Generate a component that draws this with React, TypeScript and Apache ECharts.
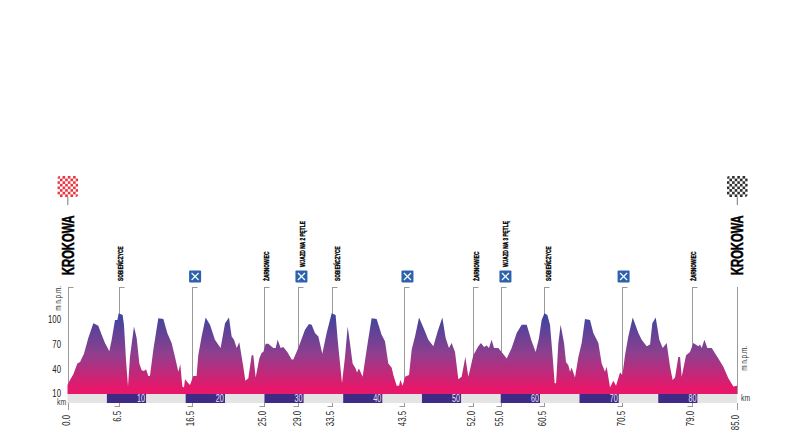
import React, { useEffect, useRef } from "react";
import * as echarts from "echarts";

const kms = [0,0.32,0.74,1.25,1.59,2.09,2.64,3.28,3.91,4.34,4.76,5.31,5.61,6.03,6.33,6.5,7,7.17,7.43,7.68,7.93,8.44,8.78,9.12,9.42,9.71,9.97,10.26,10.47,10.9,11.53,12.17,12.67,13.22,13.65,14.07,14.32,14.58,14.79,14.92,15.34,15.55,15.97,16.39,16.6,17.03,17.54,18.09,18.72,19.44,20,20.5,20.84,21.14,21.48,21.81,22.32,22.58,22.96,23.38,23.59,23.89,24.35,24.65,24.86,25.16,25.5,26.13,26.43,26.68,27.06,27.4,27.91,28.46,28.67,29.3,30.15,30.66,31,31.42,31.85,32.35,32.9,33.54,34.04,34.3,34.6,34.85,35.23,35.57,35.86,36.2,36.58,36.75,37,37.47,37.98,38.61,39.25,39.88,40.31,40.73,41.16,41.37,41.79,42.09,42.26,42.55,42.85,43.36,43.7,44.12,44.63,45.3,45.81,46.45,46.99,47.59,48.01,48.43,48.77,49.2,49.62,50.04,50.51,50.89,51.19,51.52,52.16,52.5,52.88,53.22,53.51,53.85,54.15,54.7,55.12,55.76,56.39,57.03,57.66,58.3,58.93,59.44,59.86,60.2,60.55,60.92,61.26,61.6,61.85,62.03,62.32,62.61,63.04,63.29,63.59,63.8,64.01,64.43,64.86,65.28,65.7,66.34,66.76,67.4,67.82,68.24,68.45,68.88,69.3,69.64,70.15,70.45,70.78,71.2,71.76,72.48,72.9,73.53,73.96,74.25,74.68,75.14,75.57,76.07,76.5,76.83,77.13,77.55,77.77,77.98,78.53,79.03,79.46,80.09,80.3,80.52,80.86,81.24,81.79,82.63,83.27,83.9,84.54,85];
const elevations = [21,27,34,47,49,59,78,96,93,82,72,62,76,100,100,108,106,94,51,19,55,92,78,47,39,38,40,32,32,64,102,101,84,72,55,37,46,19,18,28,23,21,32,32,57,80,103,94,76,66,96,103,80,76,66,73,43,26,29,57,57,30,53,60,61,71,71,66,66,76,66,67,61,52,52,66,88,95,94,84,80,59,84,108,106,76,47,23,55,92,72,47,41,36,41,31,64,102,101,82,74,47,42,33,20,20,27,20,31,33,64,80,103,88,76,68,86,103,78,66,72,61,28,31,55,31,43,57,68,72,67,69,66,76,66,66,61,53,66,84,94,94,74,61,78,100,108,106,94,55,23,23,72,94,72,49,45,37,42,30,55,72,101,100,84,72,47,37,43,18,26,20,36,33,57,80,103,84,76,68,70,96,103,76,66,72,43,27,30,55,55,31,57,61,72,68,70,66,76,66,66,53,43,29,19,20];

const guideKm = [0,6.55,15.77,24.95,29.3,33.6,42.72,51.5,55,60.46,70.44,79.25,85];
const guideLabels = ["0.0","6.5","16.5","25.0","29.0","33.5","43.5","52.0","55.0","60.5","70.5","79.0","85.0"];
const placeNames = ["SOBIEŃCZYCE","ŻARNOWIEC","WJAZD NA 2 PĘTLE","SOBIEŃCZYCE","ŻARNOWIEC","WJAZD NA 3 PĘTLĘ","SOBIEŃCZYCE","ŻARNOWIEC"];
const placeKm = [6.7,25.2,29.73,34.2,51.87,55.5,61,79.4];
const placeLift = [0,0,14,0,0,14,0,0];
const iconKm = [16.2,29.7,43.16,55.6,70.6];
const townName = "KROKOWA";
const townKm = [0,85];
const flagColors = ["#e8202f","#1a1a1a"];
const kmMarks = [5,10,15,20,25,30,35,40,45,50,55,60,65,70,75,80,85];
const elevationTicks = [10,40,70,100];

const SANS = '"Liberation Sans", Arial, sans-serif';
const GUIDE = "#9a9a9a";

function seg(x1: number, y1: number, x2: number, y2: number, color = GUIDE, width = 1) {
  return { type: "line", shape: { x1, y1, x2, y2 }, style: { stroke: color, lineWidth: width }, silent: true };
}

export default function App() {
  const ref = useRef<HTMLDivElement>(null);
  useEffect(() => {
    const chart = echarts.init(ref.current!, undefined, { renderer: "svg" });
    const guideSeries = {
      type: "custom", z: 1, silent: true, clip: false,
      data: guideKm.map((k) => [k]),
      encode: { x: 0 },
      renderItem: (_p: any, api: any) => {
        const k = api.value(0);
        const top = api.coord([k, 140]);
        const base = api.coord([k, 10]);
        const x = Math.round(top[0]) + 0.5;
        const isEnd = k === 0 || k === 85;
        const children: any[] = [seg(x, top[1], x, base[1])];
        if (k !== 85) children.push(seg(x, top[1] + 0.5, x + 5, top[1] + 0.5));
        children.push(seg(x, base[1] + 9, x, base[1] + (isEnd ? 16 : 13)));
        if (!isEnd) children.push(seg(x - 5, base[1] + 12.5, x, base[1] + 12.5));
        return { type: "group", children };
      },
    };
    const kmLabelSeries = {
      type: "custom", z: 4, silent: true, clip: false,
      data: guideKm.map((k, i) => [k, i]),
      encode: { x: 0 },
      renderItem: (_p: any, api: any) => {
        const k = api.value(0);
        const base = api.coord([k, 10]);
        const isEnd = k === 0 || k === 85;
        return {
          type: "text", x: base[0] - 1, y: base[1] + (isEnd ? 21 : 17), rotation: Math.PI / 2, scaleX: 0.78,
          style: { text: guideLabels[api.value(1)], fill: "#222", font: `10px ${SANS}`, align: "right", verticalAlign: "middle" },
        };
      },
    };
    const elevationLabelSeries = {
      type: "custom", z: 4, silent: true, clip: false,
      data: elevationTicks.map((v) => [0, v]),
      encode: { x: 0, y: 1 },
      renderItem: (_p: any, api: any) => {
        const c = api.coord([0, api.value(1)]);
        return {
          type: "text", x: c[0] - 6.5, y: c[1], scaleX: 0.78,
          style: { text: String(api.value(1)), fill: "#222", font: `10px ${SANS}`, align: "right", verticalAlign: "middle" },
        };
      },
    };
    const bandSeries = {
      type: "custom", z: 3, silent: true, clip: false,
      data: kmMarks.map((k) => [k]),
      encode: { x: 0 },
      renderItem: (_p: any, api: any) => {
        const k = api.value(0);
        const a = api.coord([k - 5, 10]);
        const b = api.coord([k, 10]);
        const dark = k % 10 === 0;
        const children: any[] = [{
          type: "rect",
          shape: { x: a[0], y: a[1], width: b[0] - a[0], height: 9 },
          style: { fill: dark ? "#3f2a86" : "#e4e4e4" },
        }];
        if (dark) children.push({
          type: "text", x: b[0] - 1.2, y: a[1] + 4.7, scaleX: 0.72,
          style: { text: String(k), fill: "#e6e6f2", font: `10px ${SANS}`, align: "right", verticalAlign: "middle" },
        });
        return { type: "group", children };
      },
    };
    const placeSeries = {
      type: "custom", z: 4, silent: true, clip: false,
      data: placeKm.map((k, i) => [k, i]),
      encode: { x: 0 },
      renderItem: (_p: any, api: any) => {
        const i = api.value(1);
        const c = api.coord([api.value(0), 140]);
        return {
          type: "text", x: c[0], y: c[1] - 6 - placeLift[i], rotation: Math.PI / 2, scaleX: 0.6,
          style: { text: placeNames[i], fill: "#000", stroke: "#000", lineWidth: 0.35, font: `bold 8px ${SANS}`, align: "left", verticalAlign: "middle" },
        };
      },
    };
    const iconSeries = {
      type: "custom", z: 4, silent: true, clip: false,
      data: iconKm.map((k) => [k]),
      encode: { x: 0 },
      renderItem: (_p: any, api: any) => {
        const c = api.coord([api.value(0), 140]);
        const x = c[0], y = c[1] - 10.5;
        return {
          type: "group",
          children: [
            { type: "rect", shape: { x: x - 6, y: y - 6, width: 12, height: 12, r: 1 }, style: { fill: "#2b62ae" } },
            seg(x - 3.5, y - 3.5, x + 3.5, y + 3.5, "#ffffff", 1.2),
            seg(x + 3.5, y - 3.5, x - 3.5, y + 3.5, "#ffffff", 1.2),
          ],
        };
      },
    };
    const townSeries = {
      type: "custom", z: 4, silent: true, clip: false,
      data: townKm.map((k, i) => [k, i]),
      encode: { x: 0 },
      renderItem: (_p: any, api: any) => {
        const c = api.coord([api.value(0), 140]);
        const color = flagColors[api.value(1)];
        const x = c[0] + 0.3, top = 176, n = 8, size = 21, cell = size / n;
        const children: any[] = [];
        for (let r = 0; r < n; r++) for (let q = 0; q < n; q++) {
          if ((r + q) % 2 === 0) children.push({
            type: "rect",
            shape: { x: x - size / 2 + q * cell, y: top + r * cell, width: cell, height: cell },
            style: { fill: color, opacity: 0.9 },
          });
        }
        children.push({
          type: "rect",
          shape: { x: x - size / 2 - 0.5, y: top - 0.5, width: size + 1, height: size + 1, r: 3 },
          style: { fill: "none", stroke: "#ffffff", lineWidth: 1.2 },
        });
        children.push(seg(x, top + size, x, top + size + 8, "#777"));
        children.push({
          type: "text", x, y: c[1] - 12, rotation: Math.PI / 2, scaleX: 0.7,
          style: { text: townName, fill: "#000", stroke: "#000", lineWidth: 0.5, font: `bold 16px ${SANS}`, align: "left", verticalAlign: "middle" },
        });
        return { type: "group", children };
      },
    };
    chart.setOption({
      animation: false,
      backgroundColor: "#ffffff",
      grid: { left: 67.5, right: 51, top: 287, bottom: 45 },
      xAxis: {
        type: "value", min: 0, max: 85,
        axisLine: { show: false }, axisTick: { show: false }, splitLine: { show: false },
        axisLabel: { show: false },
      },
      yAxis: {
        type: "value", min: 10, max: 140,
        axisLine: { show: false }, axisTick: { show: false }, splitLine: { show: false },
        axisLabel: { show: false },
      },
      graphic: [
        { type: "text", x: 58, y: 286, rotation: Math.PI / 2, scaleX: 0.75, style: { text: "m n.p.m.", fill: "#333", font: `8.5px ${SANS}`, align: "right", verticalAlign: "middle" } },
        { type: "text", x: 744, y: 346, rotation: Math.PI / 2, scaleX: 0.75, style: { text: "m n.p.m.", fill: "#333", font: `8.5px ${SANS}`, align: "right", verticalAlign: "middle" } },
        { type: "text", x: 57, y: 402.5, scaleX: 0.8, style: { text: "km", fill: "#333", font: `8.5px ${SANS}`, verticalAlign: "middle" } },
        { type: "text", x: 741, y: 398.5, scaleX: 0.8, style: { text: "km", fill: "#333", font: `8.5px ${SANS}`, verticalAlign: "middle" } },
      ],
      series: [
        guideSeries,
        {
          type: "line", z: 2, showSymbol: false, smooth: false, silent: true,
          data: kms.map((k, i) => [k, elevations[i]]),
          lineStyle: { width: 0 },
          areaStyle: {
            origin: "start", opacity: 1,
            color: new echarts.graphic.LinearGradient(0, 0, 0, 1, [
              { offset: 0, color: "#39469f" },
              { offset: 0.5, color: "#8f3f8e" },
              { offset: 0.92, color: "#e5186b" },
              { offset: 1, color: "#e8176a" },
            ]),
          },
        },
        bandSeries,
        kmLabelSeries,
        elevationLabelSeries,
        placeSeries,
        iconSeries,
        townSeries,
      ],
    });
    return () => chart.dispose();
  }, []);
  return <div ref={ref} style={{ position: "fixed", left: 0, top: 0, width: 788, height: 439 }} />;
}
